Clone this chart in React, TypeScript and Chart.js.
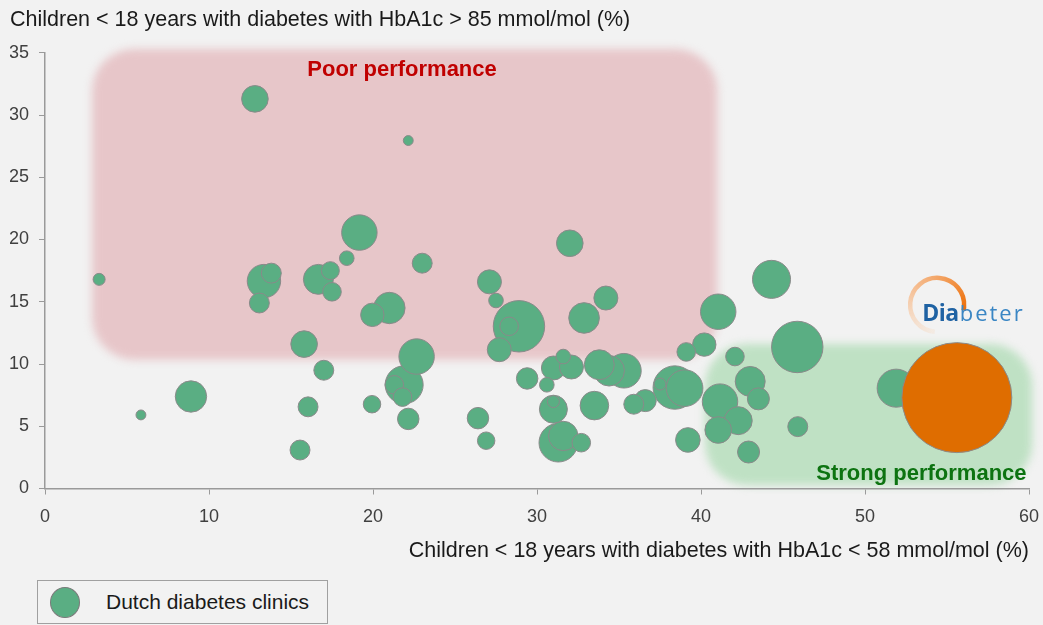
import React, { useEffect, useRef } from 'react';
import { Chart, registerables } from 'chart.js';

Chart.register(...registerables);

const FONT = '"Liberation Sans", Arial, sans-serif';

// ---- Data -------------------------------------------------------------
// Share of children (<18 y) with HbA1c < 58 mmol/mol (%)
const clinicX = [
  12.8, 22.15, 19.17, 18.4, 23.0, 3.3, 13.35, 13.8, 13.07, 16.67,
  17.4, 17.5, 21.0, 19.96, 15.8, 17.0, 22.66, 21.9, 21.3, 21.8,
  22.15, 19.94, 16.04, 8.9, 5.85, 15.55, 32.0, 27.1, 27.5, 28.9,
  28.3, 27.7, 32.87, 34.2, 29.4, 30.6, 31.0, 31.6, 32.1, 33.8,
  34.4, 35.3, 31.0, 31.0, 33.5, 26.4, 26.9, 31.3, 31.6, 32.7,
  35.9, 36.6, 38.4, 39.0, 37.5, 39.2, 39.1, 40.2, 41.05, 44.3,
  42.07, 45.87, 43.0, 43.5, 41.16, 42.27, 41.05, 42.9, 45.9, 51.9,
];
// Share of children (<18 y) with HbA1c > 85 mmol/mol (%)
const clinicY = [
  31.3, 27.95, 20.56, 18.5, 18.1, 16.8, 16.66, 17.3, 14.9, 16.8,
  17.5, 15.8, 14.5, 13.95, 11.6, 9.5, 10.6, 8.33, 8.33, 7.34,
  5.59, 6.77, 6.56, 7.39, 5.91, 3.09, 19.7, 16.6, 15.1, 13.03,
  13.03, 11.15, 13.7, 15.3, 8.84, 8.33, 9.68, 10.6, 9.76, 9.94,
  9.46, 9.46, 6.37, 6.98, 6.66, 5.65, 3.84, 3.68, 4.22, 3.68,
  6.77, 7.06, 8.11, 8.06, 8.39, 3.9, 10.97, 11.56, 14.2, 16.8,
  10.6, 11.37, 8.6, 7.2, 6.98, 5.45, 4.7, 2.93, 4.97, 8.06,
];
// Number of patients per clinic (bubble area)
const clinicPatients = [
  123, 17, 218, 37, 69, 25, 194, 69, 69, 156,
  56, 60, 171, 95, 123, 69, 218, 251, 60, 60,
  80, 53, 69, 171, 17, 69, 123, 100, 37, 459,
  60, 100, 163, 100, 80, 37, 100, 37, 100, 156,
  163, 208, 136, 25, 142, 80, 53, 259, 150, 60,
  69, 84, 327, 233, 25, 105, 60, 95, 218, 251,
  60, 459, 156, 84, 218, 136, 123, 84, 69, 251,
];

const diabeterX = [55.6];
const diabeterY = [7.3];
const diabeterPatients = [2100];

const xTickValues = [0, 10, 20, 30, 40, 50, 60];
const yTickValues = [0, 5, 10, 15, 20, 25, 30, 35];

const yTitle = 'Children < 18 years with diabetes with HbA1c > 85 mmol/mol (%)';
const xTitle = 'Children < 18 years with diabetes with HbA1c < 58 mmol/mol (%)';
const clinicLabel = 'Dutch diabetes clinics';
const diabeterLabel = 'Diabeter';
const poorLabel = 'Poor performance';
const strongLabel = 'Strong performance';

// Highlighted zones, in axis units
const poorZone = { x0: 2.87, x1: 41.0, y0: 10.35, y1: 35.3 };
const strongZone = { x0: 40.24, x1: 60.2, y0: 0.27, y1: 11.6 };

const radiusFor = (n: number) => 1.2 * Math.sqrt(n);

// ---- Plugins -----------------------------------------------------------
const zonesPlugin = {
  id: 'zones',
  beforeDraw(chart: any) {
    const { ctx, scales } = chart;
    const x = scales.x;
    const y = scales.y;
    const draw = (z: any, color: string) => {
      const l = x.getPixelForValue(z.x0);
      const r = x.getPixelForValue(z.x1);
      const t = y.getPixelForValue(z.y1);
      const b = y.getPixelForValue(z.y0);
      ctx.save();
      ctx.filter = 'blur(4px)';
      ctx.fillStyle = color;
      ctx.beginPath();
      (ctx as any).roundRect(l, t, r - l, b - t, 42);
      ctx.fill();
      ctx.restore();
    };
    draw(poorZone, '#e7c6c9');
    draw(strongZone, '#bfe1c4');

    ctx.save();
    ctx.font = `bold 22px ${FONT}`;
    ctx.textBaseline = 'middle';
    ctx.fillStyle = '#c00000';
    ctx.textAlign = 'center';
    ctx.fillText(poorLabel, x.getPixelForValue(21.77), y.getPixelForValue(33.6));
    ctx.fillStyle = '#0d7311';
    ctx.textAlign = 'right';
    ctx.fillText(strongLabel, x.getPixelForValue(59.85), y.getPixelForValue(1.15));
    ctx.restore();
  },
};

const logoPlugin = {
  id: 'logo',
  afterDraw(chart: any) {
    const { ctx, scales } = chart;
    const cx = scales.x.getPixelForValue(54.4);
    const cy = scales.y.getPixelForValue(14.75);
    const rad = 27;
    ctx.save();
    const start = (95 * Math.PI) / 180;
    const end = (372 * Math.PI) / 180;
    const g = (ctx as any).createConicGradient(start, cx, cy);
    g.addColorStop(0, 'rgba(250,210,175,0.2)');
    g.addColorStop(0.35, 'rgba(246,170,110,0.75)');
    g.addColorStop(0.7, '#ee7a1c');
    g.addColorStop(0.77, '#e96d0e');
    g.addColorStop(1, '#e96d0e');
    ctx.strokeStyle = g;
    ctx.lineWidth = 4.5;
    ctx.beginPath();
    ctx.arc(cx, cy, rad, start, end);
    ctx.stroke();

    const baseY = cy + 16;
    let tx = cx - 15;
    ctx.textBaseline = 'alphabetic';
    ctx.textAlign = 'left';
    ctx.font = 'bold 23px "Open Sans", "DejaVu Sans", sans-serif';
    ctx.fillStyle = '#1f62a3';
    const dia = 'Dia';
    const dW = ctx.measureText(dia).width;
    const dSp = (37 - dW) / (dia.length - 1);
    for (const ch of dia) {
      ctx.fillText(ch, tx, baseY);
      tx += ctx.measureText(ch).width + dSp;
    }
    tx += 1;
    ctx.font = '22px "Open Sans", "DejaVu Sans", sans-serif';
    ctx.fillStyle = '#3a86c4';
    const bet = 'beter';
    const bW = ctx.measureText(bet).width;
    const bSp = (63 - bW) / (bet.length - 1);
    for (const ch of bet) {
      ctx.fillText(ch, tx, baseY);
      tx += ctx.measureText(ch).width + bSp;
    }
    ctx.restore();
  },
};

export default function App() {
  const ref = useRef<HTMLCanvasElement>(null);

  useEffect(() => {
    document.body.style.margin = '0';
    const clinicPoints = clinicX
      .map((x, i) => ({ x, y: clinicY[i], r: radiusFor(clinicPatients[i]) }))
      .sort((a, b) => b.r - a.r);
    const diabeterPoints = diabeterX.map((x, i) => ({
      x,
      y: diabeterY[i],
      r: radiusFor(diabeterPatients[i]),
    }));

    const axisColor = '#9a9a9a';
    const tickFont = { family: FONT, size: 18 };

    const chart = new Chart(ref.current as HTMLCanvasElement, {
      type: 'bubble',
      data: {
        datasets: [
          {
            label: diabeterLabel,
            data: diabeterPoints,
            backgroundColor: '#df6d00',
            borderColor: '#8a8a8a',
            borderWidth: 1,
            order: 0,
            clip: false,
          },
          {
            label: clinicLabel,
            data: clinicPoints,
            backgroundColor: '#5aae83',
            borderColor: '#8a8a8a',
            borderWidth: 1,
            order: 1,
            clip: false,
          },
        ],
      },
      options: {
        responsive: false,
        animation: false,
        events: [],
        layout: { autoPadding: false, padding: { left: 10, right: 14, top: 0, bottom: 9 } },
        plugins: {
          legend: { display: false },
          tooltip: { enabled: false },
          title: {
            display: true,
            text: yTitle,
            align: 'start',
            color: '#1a1a1a',
            font: { family: FONT, size: 21.5, weight: 'normal' },
            padding: { top: 7, bottom: 20 },
          },
        },
        scales: {
          x: {
            type: 'linear',
            min: 0,
            max: 60,
            afterBuildTicks: (s: any) => {
              s.ticks = xTickValues.map((v) => ({ value: v }));
            },
            afterFit: (s: any) => {
              s.height = 77.5;
              s.paddingLeft = 0;
              s.paddingRight = 0;
            },
            ticks: { color: '#404040', font: tickFont, padding: 12, maxRotation: 0 },
            grid: { display: true, drawOnChartArea: false, drawTicks: true, tickLength: 6, color: axisColor },
            border: { display: true, color: axisColor, width: 1.5 },
            title: {
              display: true,
              text: xTitle,
              align: 'end',
              color: '#1a1a1a',
              font: { family: FONT, size: 21.5 },
              padding: { top: 9, bottom: 2 },
            },
          },
          y: {
            type: 'linear',
            min: 0,
            max: 35,
            afterBuildTicks: (s: any) => {
              s.ticks = yTickValues.map((v) => ({ value: v }));
            },
            afterFit: (s: any) => {
              s.width = 35;
              s.paddingTop = 0;
              s.paddingBottom = 0;
            },
            ticks: { color: '#404040', font: tickFont, padding: 10 },
            grid: { display: true, drawOnChartArea: false, drawTicks: true, tickLength: 6, color: axisColor },
            border: { display: true, color: axisColor, width: 1.5 },
          },
        },
      } as any,
      plugins: [zonesPlugin, logoPlugin],
    });
    return () => chart.destroy();
  }, []);

  return (
    <div
      style={{
        position: 'relative',
        width: 1043,
        height: 625,
        background: '#f2f2f2',
        overflow: 'hidden',
      }}
    >
      <canvas
        ref={ref}
        width={1043}
        height={575}
        style={{ position: 'absolute', left: 0, top: 0, width: 1043, height: 575 }}
      />
      <div
        style={{
          position: 'absolute',
          left: 37,
          top: 580,
          width: 291,
          height: 44,
          boxSizing: 'border-box',
          border: '1px solid #a0a0a0',
          fontFamily: FONT,
          fontSize: 21,
          color: '#1a1a1a',
        }}
      >
        <div
          style={{
            position: 'absolute',
            left: 12,
            top: 6,
            width: 30,
            height: 31,
            boxSizing: 'border-box',
            borderRadius: '50%',
            background: '#5aae83',
            border: '1px solid #7a7a7a',
          }}
        />
        <span style={{ position: 'absolute', left: 68, top: 9, lineHeight: '24px', whiteSpace: 'nowrap' }}>
          {clinicLabel}
        </span>
      </div>
    </div>
  );
}
